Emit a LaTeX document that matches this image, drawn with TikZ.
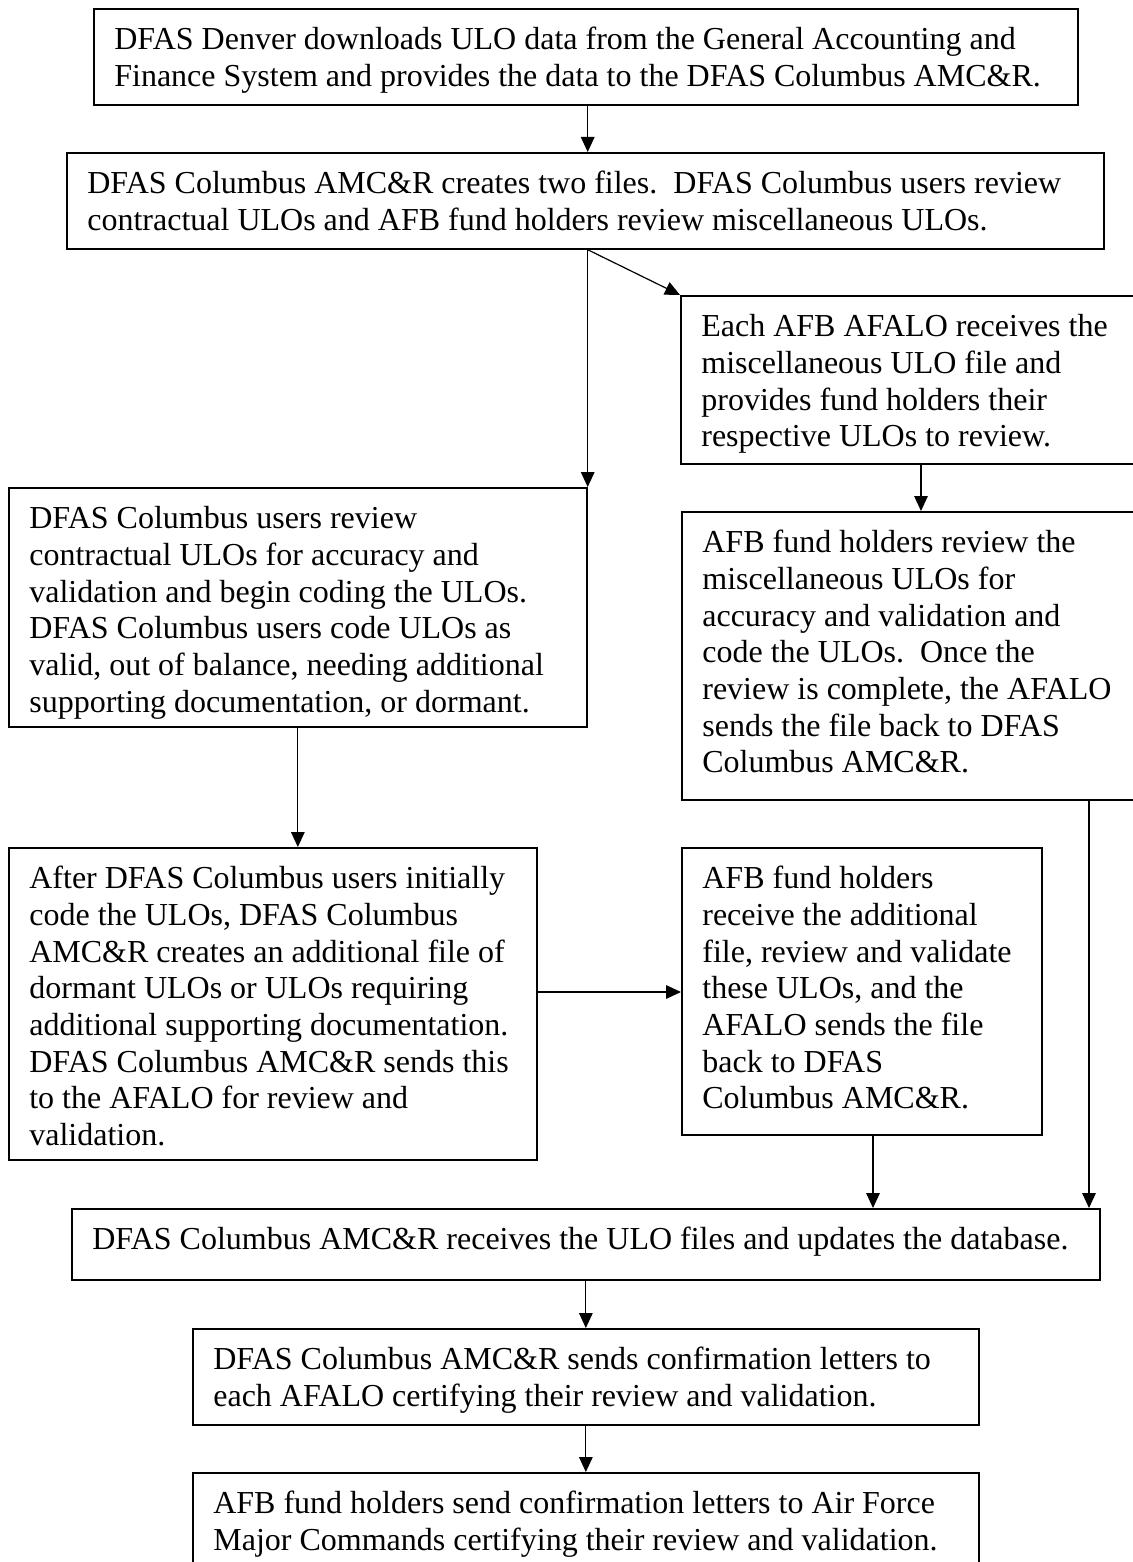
\documentclass[tikz,border=0pt]{standalone}
\usepackage{fontspec}
\setmainfont{Liberation Serif}
\usetikzlibrary{arrows.meta}
\newcommand\fs{\fontsize{16pt}{18.35pt}\selectfont\frenchspacing}
% name, left, top, right, bottom (px), text
\newcommand\flowbox[6]{%
  \node[fbox] (#1) at (#2,#3)
    {\parbox[c][\dimexpr 0.5pt*(#5-#3)-15.2pt\relax][t]{\dimexpr 0.5pt*(#4-#2)-20.5pt\relax}{\begin{tabular}[t]{@{}l@{}}#6\end{tabular}}};}
\begin{document}
\begin{tikzpicture}[x=0.5pt,y=-0.5pt,
  fbox/.style={draw, line width=0.85pt, anchor=north west, inner xsep=10.25pt, inner ysep=7.6pt, font=\fs},
  arr/.style={line width=0.6pt, -{Triangle[length=7.5pt,width=6.8pt]}}]
\useasboundingbox (0,0) rectangle (1132,1562);
\fill[white] (0,0) rectangle (1132,1562);

\flowbox{b1}{93}{8}{1077}{104}{DFAS Denver downloads ULO data from the General Accounting and\\Finance System and provides the data to the DFAS Columbus AMC\&R.}
\flowbox{b2}{66}{152}{1103}{248}{DFAS Columbus AMC\&R creates two files.\ \ DFAS Columbus users review\\contractual ULOs and AFB fund holders review miscellaneous ULOs.}
\flowbox{b3}{680}{295}{1134}{463}{Each AFB AFALO receives the\\miscellaneous ULO file and\\provides fund holders their\\respective ULOs to review.}
\flowbox{b4}{8}{487}{586}{726}{DFAS Columbus users review\\contractual ULOs for accuracy and\\validation and begin coding the ULOs.\\DFAS Columbus users code ULOs as\\valid, out of balance, needing additional\\supporting documentation, or dormant.}
\flowbox{b5}{681}{511}{1134}{799}{AFB fund holders review the\\miscellaneous ULOs for\\accuracy and validation and\\code the ULOs.\ \ Once the\\review is complete, the AFALO\\sends the file back to DFAS\\Columbus AMC\&R.}
\flowbox{b6}{8}{847}{536}{1159}{After DFAS Columbus users initially\\code the ULOs, DFAS Columbus\\AMC\&R creates an additional file of\\dormant ULOs or ULOs requiring\\additional supporting documentation.\\DFAS Columbus AMC\&R sends this\\to the AFALO for review and\\validation.}
\flowbox{b7}{681}{847}{1041}{1134}{AFB fund holders\\receive the additional\\file, review and validate\\these ULOs, and the\\AFALO sends the file\\back to DFAS\\Columbus AMC\&R.}
\flowbox{b8}{71}{1208}{1099}{1279}{DFAS Columbus AMC\&R receives the ULO files and updates the database.}
\flowbox{b9}{192}{1328}{978}{1424}{DFAS Columbus AMC\&R sends confirmation letters to\\each AFALO certifying their review and validation.}
\flowbox{b10}{192}{1472}{978}{1564}{AFB fund holders send confirmation letters to Air Force\\Major Commands certifying their review and validation.}

\coordinate (split) at (b4.north east |- b2.south);
\coordinate (x4) at (921,0);
\coordinate (y6) at (0,992);
\coordinate (x7) at (873,0);
\coordinate (x8) at (1089,0);

\draw[arr] (split |- b1.south) -- (split |- b2.north);
\draw[arr] (split) -- (b4.north east);
\draw[arr] (split) -- (b3.north west);
\draw[arr] (b3.south -| x4) -- (b5.north -| x4);
\draw[arr] (b4.south) -- (b4.south |- b6.north);
\draw[arr] (b6.east |- y6) -- (b7.west |- y6);
\draw[arr] (b7.south -| x7) -- (b8.north -| x7);
\draw[arr] (b5.south -| x8) -- (b8.north -| x8);
\draw[arr] (b8.south -| b9.north) -- (b9.north);
\draw[arr] (b9.south) -- (b10.north);
\end{tikzpicture}
\end{document}
